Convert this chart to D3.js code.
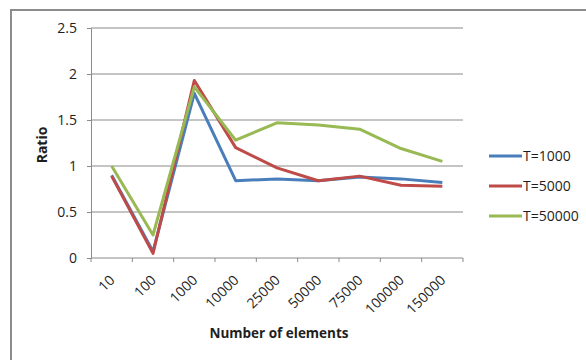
<!DOCTYPE html>
<html>
<head>
<meta charset="utf-8">
<script src="https://cdn.jsdelivr.net/npm/d3@7"></script>
<style>
  html, body { margin: 0; padding: 0; background: #fff; }
  svg { display: block; font-family: "Open Sans", "Liberation Sans", sans-serif; }
</style>
</head>
<body>
<svg id="chart" width="586" height="360"></svg>
<script>
// Number of elements on the x axis
const categories = ["10", "100", "1000", "10000", "25000", "50000", "75000", "100000", "150000"];

// Ratio per series
const t1000  = [0.90, 0.07, 1.79, 0.84, 0.86, 0.84, 0.88, 0.86, 0.82];
const t5000  = [0.89, 0.05, 1.93, 1.20, 0.98, 0.84, 0.89, 0.79, 0.78];
const t50000 = [1.00, 0.25, 1.86, 1.28, 1.47, 1.445, 1.40, 1.19, 1.05];

const seriesNames  = ["T=1000", "T=5000", "T=50000"];
const seriesColors = ["#4A7EBB", "#BE4B48", "#98B954"];
const yTicks = [0, 0.5, 1, 1.5, 2, 2.5];
const yTickLabels = ["0", "0.5", "1", "1.5", "2", "2.5"];

const series = [t1000, t5000, t50000].map((values, i) => ({
  name: seriesNames[i], color: seriesColors[i], values
}));

const svg = d3.select("#chart");
const plot = { left: 91, right: 463, top: 28, bottom: 258 };
const textColor = "#1e1e1e";

// outer chart frame (extends past the right and bottom edge)
svg.append("rect")
  .attr("x", 11).attr("y", 10)
  .attr("width", 600).attr("height", 400)
  .attr("fill", "#fff")
  .attr("stroke", "#8c8c8c").attr("stroke-width", 2);

const x = d3.scaleBand().domain(categories).range([plot.left, plot.right]).padding(0);
const y = d3.scaleLinear().domain([0, 2.5]).range([plot.bottom, plot.top]);

// horizontal gridlines
svg.append("g")
  .selectAll("line")
  .data(yTicks.filter(d => d > 0))
  .join("line")
  .attr("x1", plot.left).attr("x2", plot.right)
  .attr("y1", d => y(d)).attr("y2", d => y(d))
  .attr("stroke", "#8a8a8a").attr("stroke-width", 1);

// y axis
const yAxis = svg.append("g")
  .attr("transform", `translate(${plot.left},0)`)
  .call(d3.axisLeft(y).tickValues(yTicks).tickFormat((d, i) => yTickLabels[i]).tickSize(4).tickPadding(10));
yAxis.select(".domain").attr("stroke", "#8a8a8a");
yAxis.selectAll(".tick line").attr("stroke", "#8a8a8a");
yAxis.selectAll("text").attr("font-size", 14).attr("fill", textColor).attr("font-family", "Open Sans");

// x axis: tick marks on category boundaries
const xAxis = svg.append("g")
  .attr("transform", `translate(0,${plot.bottom})`);
xAxis.append("line")
  .attr("x1", plot.left).attr("x2", plot.right)
  .attr("stroke", "#8a8a8a");
const boundaries = categories.map(c => x(c)).concat([x(categories[categories.length - 1]) + x.bandwidth()]);
xAxis.selectAll("line.tk")
  .data(boundaries)
  .join("line").attr("class", "tk")
  .attr("x1", d => d).attr("x2", d => d)
  .attr("y1", 0).attr("y2", 4)
  .attr("stroke", "#8a8a8a");
xAxis.selectAll("text")
  .data(categories)
  .join("text")
  .attr("transform", d => `translate(${x(d) + x.bandwidth() / 2 + 4},23) rotate(-45)`)
  .attr("text-anchor", "end")
  .attr("font-size", 14)
  .attr("fill", textColor)
  .text(d => d);

// axis titles
svg.append("text")
  .attr("transform", `translate(47,${(plot.top + plot.bottom) / 2 + 2}) rotate(-90)`)
  .attr("text-anchor", "middle")
  .attr("font-size", 14).attr("font-weight", "bold").attr("fill", textColor)
  .text("Ratio");
svg.append("text")
  .attr("x", 279).attr("y", 338)
  .attr("text-anchor", "middle")
  .attr("font-size", 13.5).attr("font-weight", "bold").attr("fill", textColor)
  .text("Number of elements");

// series lines
const line = d3.line()
  .x((d, i) => x(categories[i]) + x.bandwidth() / 2)
  .y(d => y(d));
svg.append("g")
  .selectAll("path")
  .data(series)
  .join("path")
  .attr("d", d => line(d.values))
  .attr("fill", "none")
  .attr("stroke", d => d.color)
  .attr("stroke-width", 3)
  .attr("stroke-linejoin", "round");

// legend
const legend = svg.append("g")
  .selectAll("g")
  .data(series)
  .join("g")
  .attr("transform", (d, i) => `translate(489,${156 + i * 30})`);
legend.append("line")
  .attr("x1", 0).attr("x2", 33)
  .attr("stroke", d => d.color).attr("stroke-width", 3);
legend.append("text")
  .attr("x", 34).attr("y", 5)
  .attr("font-size", 14).attr("fill", textColor)
  .text(d => d.name);
</script>
</body>
</html>
